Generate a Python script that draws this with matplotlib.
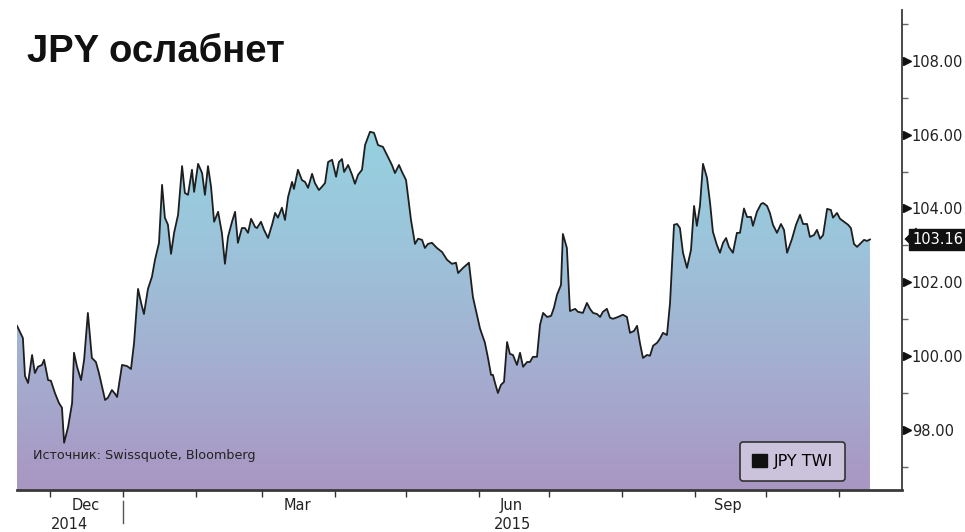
import numpy as np
import pandas as pd
import matplotlib
matplotlib.use("Agg")
import matplotlib.pyplot as plt
import matplotlib.dates as mdates
from matplotlib.patches import Patch, PathPatch
from matplotlib.colors import LinearSegmentedColormap

# JPY trade-weighted index
START = pd.Timestamp('2014-11-17')
# days since START
days = [
    0.0, 2.5, 3.4, 4.7, 6.4, 7.6, 8.9, 10.6, 11.5, 13.2,
    14.4, 16.1, 17.8, 19.1, 20.0, 21.7, 23.4, 24.2, 25.5, 27.2,
    28.5, 30.1, 31.8, 33.5, 34.8, 36.1, 37.4, 38.6, 40.3, 41.6,
    42.5, 44.6, 46.7, 48.4, 49.7, 51.4, 52.7, 53.9, 55.6, 57.3,
    58.6, 60.3, 61.6, 62.8, 64.1, 65.4, 66.7, 68.4, 70.1, 71.3,
    72.6, 74.3, 75.2, 76.9, 78.6, 79.8, 81.1, 82.4, 83.7, 85.4,
    87.0, 88.3, 89.6, 91.3, 92.6, 93.8, 95.5, 96.8, 98.1, 99.4,
    101.1, 101.9, 103.6, 104.9, 106.6, 108.3, 109.6, 110.8, 112.5, 113.8,
    115.1, 116.8, 117.6, 119.3, 121.0, 122.3, 123.6, 125.3, 126.5, 128.2,
    129.5, 130.8, 132.1, 133.8, 135.5, 136.7, 138.0, 138.9, 140.6, 142.3,
    143.5, 144.8, 146.5, 147.8, 149.9, 151.6, 153.3, 155.4, 157.5, 159.2,
    160.5, 162.2, 163.5, 165.2, 167.3, 169.0, 170.3, 172.0, 173.2, 174.5,
    176.2, 178.3, 180.5, 182.6, 184.7, 186.4, 187.3, 189.4, 191.9, 193.6,
    196.6, 198.7, 200.0, 201.3, 202.1, 203.0, 204.2, 205.5, 206.8, 208.1,
    209.3, 210.6, 212.3, 213.6, 214.9, 216.6, 217.8, 219.1, 220.8, 222.1,
    223.4, 225.1, 226.8, 228.0, 229.3, 231.0, 231.8, 233.5, 234.8, 237.0,
    238.2, 240.3, 242.0, 243.3, 244.6, 246.3, 247.6, 248.8, 250.5, 251.8,
    253.1, 255.2, 257.3, 259.0, 260.3, 262.0, 263.3, 264.5, 265.8, 267.5,
    268.8, 270.1, 271.8, 273.0, 274.3, 276.0, 277.3, 279.0, 280.3, 281.5,
    282.8, 284.5, 286.2, 287.5, 288.7, 290.0, 291.3, 293.0, 294.3, 295.5,
    297.2, 298.5, 299.8, 301.1, 302.3, 304.0, 305.7, 307.0, 308.7, 310.0,
    311.7, 312.5, 314.2, 315.9, 316.8, 318.5, 319.7, 321.0, 322.7, 324.4,
    325.7, 327.0, 329.1, 330.8, 332.5, 333.8, 335.5, 336.7, 338.4, 339.7,
    341.0, 342.3, 344.0, 345.6, 346.5, 348.2, 349.5, 351.2, 352.9, 354.1,
    355.4, 356.7, 358.4, 359.7, 360.9, 362.2,
]
twi = [
    100.82, 100.49, 99.46, 99.27, 100.03, 99.54, 99.71, 99.76, 99.90, 99.35,
    99.33, 99.00, 98.73, 98.60, 97.65, 98.08, 98.73, 100.09, 99.71, 99.35,
    99.90, 101.17, 99.95, 99.84, 99.54, 99.17, 98.81, 98.87, 99.08, 98.98,
    98.89, 99.76, 99.73, 99.65, 100.35, 101.82, 101.44, 101.14, 101.82, 102.15,
    102.61, 103.07, 104.64, 103.75, 103.56, 102.77, 103.34, 103.83, 105.15, 104.42,
    104.37, 105.05, 104.45, 105.21, 104.96, 104.37, 105.15, 104.59, 103.64, 103.91,
    103.34, 102.50, 103.23, 103.64, 103.91, 103.07, 103.47, 103.47, 103.34, 103.72,
    103.50, 103.47, 103.64, 103.42, 103.20, 103.56, 103.88, 103.75, 104.02, 103.69,
    104.31, 104.72, 104.53, 105.05, 104.77, 104.72, 104.56, 104.94, 104.69, 104.50,
    104.59, 104.69, 105.26, 105.32, 104.86, 105.26, 105.34, 104.99, 105.18, 104.91,
    104.67, 104.91, 105.05, 105.72, 106.08, 106.05, 105.72, 105.67, 105.40, 105.18,
    104.96, 105.18, 104.99, 104.77, 103.69, 103.04, 103.18, 103.15, 102.93, 103.04,
    103.07, 102.93, 102.82, 102.61, 102.50, 102.53, 102.25, 102.39, 102.53, 101.60,
    100.75, 100.36, 99.95, 99.49, 99.49, 99.27, 99.00, 99.22, 99.30, 100.38,
    100.06, 100.03, 99.76, 100.09, 99.71, 99.84, 99.84, 99.98, 99.98, 100.85,
    101.17, 101.06, 101.09, 101.31, 101.66, 101.93, 103.31, 102.93, 101.22, 101.28,
    101.20, 101.17, 101.44, 101.28, 101.17, 101.14, 101.06, 101.20, 101.28, 101.04,
    101.01, 101.06, 101.12, 101.06, 100.63, 100.68, 100.82, 100.36, 99.95, 100.03,
    100.01, 100.28, 100.36, 100.47, 100.63, 100.57, 101.44, 103.56, 103.58, 103.47,
    102.80, 102.39, 102.88, 104.07, 103.53, 104.07, 105.21, 104.83, 104.15, 103.37,
    103.01, 102.80, 103.07, 103.20, 102.96, 102.80, 103.34, 103.34, 104.00, 103.77,
    103.77, 103.53, 103.91, 104.12, 104.15, 104.07, 103.88, 103.56, 103.34, 103.58,
    103.42, 102.80, 103.18, 103.56, 103.83, 103.58, 103.58, 103.23, 103.28, 103.42,
    103.18, 103.28, 103.99, 103.96, 103.75, 103.88, 103.72, 103.64, 103.56, 103.47,
    103.04, 102.96, 103.07, 103.15, 103.12, 103.16,
]
last_value = 103.16

y_major = [98, 100, 102, 104, 106, 108]
y_minor = [97, 99, 101, 103, 105, 107, 109]
month_labels = ['Dec', 'Mar', 'Jun', 'Sep']
month_label_dates = ['2014-12-16', '2015-03-16', '2015-06-15', '2015-09-15']
year_labels = ['2014', '2015']

title = 'JPY ослабнет'
source = 'Источник: Swissquote, Bloomberg'
series_name = 'JPY TWI'


def main():
    dates = START + pd.to_timedelta(days, unit='D')
    x = mdates.date2num(dates.to_pydatetime())
    y = np.array(twi)

    x_lo = mdates.date2num(START)
    x_hi = mdates.date2num(START + pd.Timedelta(days=375.8))
    y_lo, y_hi = 96.37, 109.38

    fig = plt.figure(figsize=(9.65, 5.32), dpi=100)
    ax = fig.add_axes([17 / 965, 42 / 532, 885 / 965, 480 / 532])

    # gradient fill under the line
    fill = ax.fill_between(x, y, y_lo, facecolor='none', edgecolor='none')
    clip = PathPatch(fill.get_paths()[0], transform=ax.transData,
                     facecolor='none', edgecolor='none')
    ax.add_patch(clip)
    cmap = LinearSegmentedColormap.from_list(
        'twi', ['#a996c3', '#a4aed0', '#9cc4da', '#95d2e0'])
    grad = np.linspace(0, 1, 256).reshape(-1, 1)
    im = ax.imshow(grad, extent=[x[0], x[-1], y_lo, 106.3], origin='lower',
                   aspect='auto', cmap=cmap, zorder=1)
    im.set_clip_path(clip)

    ax.plot(x, y, color='#1e1e1e', lw=1.3, zorder=3)

    ax.set_xlim(x_lo, x_hi)
    ax.set_ylim(y_lo, y_hi)

    for s in ['top', 'left']:
        ax.spines[s].set_visible(False)
    ax.spines['bottom'].set_color('#3a3a3a')
    ax.spines['bottom'].set_linewidth(2)
    ax.spines['right'].set_color('#3a3a3a')
    ax.spines['right'].set_linewidth(1.3)

    # y axis on the right
    ax.yaxis.tick_right()
    ax.set_yticks(y_major)
    ax.set_yticklabels([f'{v:.2f}' for v in y_major])
    ax.set_yticks(y_minor, minor=True)
    ax.tick_params(axis='y', which='major', length=0, pad=7,
                   labelsize=10.5, labelcolor='#222')
    ax.tick_params(axis='y', which='minor', length=4, width=1,
                   color='#666', direction='out')
    ytr = ax.get_yaxis_transform()
    ax.plot([1.0055] * len(y_major), y_major, ls='none', marker='>', ms=6,
            color='#111', transform=ytr, clip_on=False, zorder=5)

    # last value tag
    ax.plot([1.009], [last_value], ls='none', color='#111', ms=16,
            marker=[(-0.5, 0), (0.5, 1), (0.5, -1)],
            transform=ytr, clip_on=False, zorder=5)
    ax.text(1.0115, last_value, f'{last_value:.2f}', transform=ytr,
            color='white', fontsize=10.5, va='center', ha='left', zorder=6,
            bbox=dict(boxstyle='square,pad=0.22', fc='#111', ec='#111'))

    # x axis: month ticks, labels centred in the month
    ax.xaxis.set_major_locator(mdates.MonthLocator())
    ax.xaxis.set_major_formatter(plt.NullFormatter())
    ax.set_xticks(mdates.date2num(pd.to_datetime(month_label_dates).to_pydatetime()),
                  minor=True)
    ax.set_xticklabels(month_labels, minor=True)
    ax.tick_params(axis='x', which='major', length=5, width=1,
                   color='#333', direction='out')
    ax.tick_params(axis='x', which='minor', length=0, pad=6,
                   labelsize=10.5, labelcolor='#222')

    xtr = ax.get_xaxis_transform()
    year_edge = mdates.date2num(pd.Timestamp('2015-01-01'))
    ax.plot([year_edge, year_edge], [-0.022, -0.068], color='#555', lw=1,
            transform=xtr, clip_on=False)
    ax.text((x_lo + year_edge) / 2, -0.056, year_labels[0], transform=xtr,
            ha='center', va='top', fontsize=10.5, color='#222')
    ax.text((year_edge + x_hi) / 2, -0.056, year_labels[1], transform=xtr,
            ha='center', va='top', fontsize=10.5, color='#222')

    # legend and source
    leg = ax.legend(handles=[Patch(facecolor='#111', edgecolor='#111',
                                   label=series_name)],
                    loc='lower right', bbox_to_anchor=(0.936, 0.019),
                    borderaxespad=0, frameon=True, fancybox=True,
                    framealpha=1, facecolor='#cbc3dc', edgecolor='#333',
                    fontsize=11.5, handlelength=0.95, handleheight=0.95,
                    handletextpad=0.45, borderpad=0.75)
    leg.get_frame().set_linewidth(1.2)
    leg.set_zorder(6)

    ax.text(0.018, 0.071, source, transform=ax.transAxes, fontsize=9.2,
            color='#222', va='center', ha='left', zorder=6)

    fig.text(27 / 965, (532 - 62) / 532, title, fontsize=27.5,
             fontweight='bold', family='Liberation Sans', color='#111',
             va='baseline', ha='left')

    fig.savefig('out.png', dpi=100)


if __name__ == '__main__':
    main()
